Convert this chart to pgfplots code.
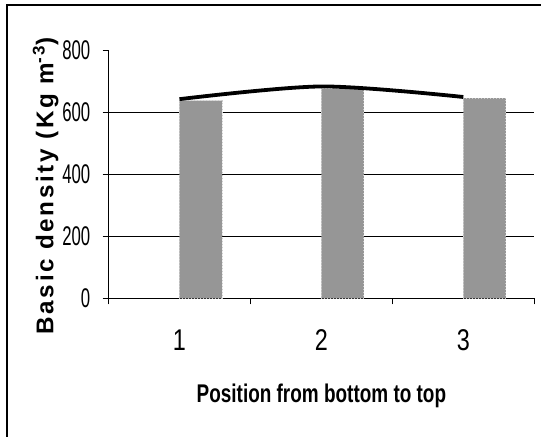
\documentclass[border=0pt]{standalone}
\usepackage{fontspec}
\setmainfont{Liberation Sans}
\newfontfamily\ytickfont{Liberation Sans}[FakeStretch=0.62]
\newfontfamily\xtickfont{Liberation Sans}[FakeStretch=0.78]
\newfontfamily\xlabfont{Liberation Sans}[FakeStretch=0.74]
\newfontfamily\ylabfont{Liberation Sans}[LetterSpace=11]
\usepackage{pgfplots}
\pgfplotsset{compat=1.18}
\definecolor{barfill}{RGB}{150,150,150}
\definecolor{baredge}{RGB}{205,205,205}

\begin{document}
\begin{tikzpicture}
\useasboundingbox (0,0) rectangle (270.5pt,218.5pt);
% frame of the original chart area (only left and top edges are inside the crop)
\draw[line width=1pt] (3.5pt,-5pt) -- (3.5pt,216pt) -- (280pt,216pt);
\begin{axis}[
    at={(54.25pt,69.25pt)}, anchor=south west,
    scale only axis,
    width=212.9pt, height=124pt,
    xmin=0.5, xmax=3.5,
    ymin=0, ymax=800,
    axis lines=left,
    axis line style={-, line width=0.5pt},
    clip=false,
    xtick={0.5,1.5,2.5,3.5},
    x tick label as interval,
    xticklabels={{\fontsize{15}{16}\xtickfont 1},{\fontsize{15}{16}\xtickfont 2},{\fontsize{15}{16}\xtickfont 3}},
    ytick={0,200,400,600,800},
    yticklabel={\fontsize{13.5}{14}\ytickfont\pgfmathprintnumber{\tick}},
    tick align=outside,
    tick style={black, line width=0.5pt},
    major tick length=3pt,
    extra y ticks={200,400,600},
    extra y tick labels={},
    extra y tick style={grid=major, major tick length=0pt},
    major grid style={black, line width=0.5pt},
    /pgf/number format/assume math mode=true,
    yticklabel style={anchor=east, inner sep=0pt, xshift=-5.9pt},
    xticklabel style={anchor=center, inner sep=0pt, yshift=-18pt},
    xlabel={Position from bottom to top},
    xlabel style={font=\fontsize{12.8}{14}\xlabfont\bfseries, at={(axis description cs:0.5,-0.42)}, anchor=base, inner sep=0pt},
    ylabel={Basic density (Kg m\textsuperscript{-3})},
    ylabel style={font=\fontsize{12.1}{14}\ylabfont\bfseries, at={(axis description cs:-0.1295,0.455)}, anchor=base, inner sep=0pt},
]
\addplot[ybar, bar width=0.3, bar shift=0.15, fill=barfill,
    draw=baredge, densely dotted, line width=0.5pt] coordinates {
    (1,638) (2,676) (3,646)
};
\addplot[black, line width=1.9pt, smooth] coordinates {
    (1,643) (2,684) (3,650)
};
\end{axis}
\end{tikzpicture}
\end{document}
